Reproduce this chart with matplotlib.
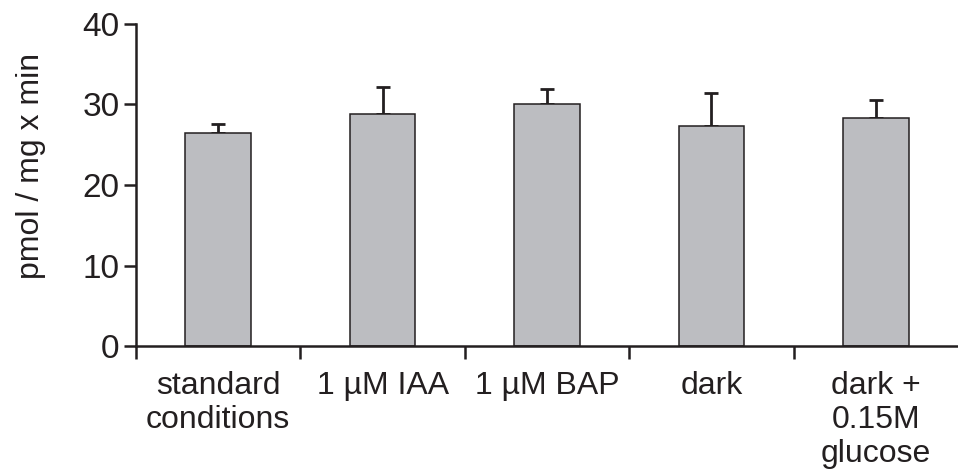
import numpy as np
import matplotlib
matplotlib.use("Agg")
import matplotlib.pyplot as plt

# data
categories = ["standard\nconditions", "1 µM IAA", "1 µM BAP", "dark", "dark +\n0.15M\nglucose"]
means = [26.5, 28.8, 30.0, 27.3, 28.3]
errors = [1.1, 3.4, 1.9, 4.1, 2.3]
yticks = [0, 10, 20, 30, 40]

plt.rcParams['font.family'] = ['Liberation Sans', 'DejaVu Sans']
dark = '#231f20'

fig = plt.figure(figsize=(9.58, 4.71), dpi=100)
ax = fig.add_axes([136/958, 1-346/471, 1-136/958, (346-24)/471])

x = np.arange(len(categories))
ax.bar(x, means, width=0.4, color='#bcbdc1', edgecolor=dark, linewidth=1.1, zorder=2)
ax.errorbar(x, means, yerr=[np.zeros(len(errors)), errors], fmt='none',
            ecolor=dark, elinewidth=2.0, capsize=5, capthick=2.0, zorder=1)

ax.set_xlim(-0.5, 4.5)
ax.set_ylim(0, 40)
ax.set_yticks(yticks)
# major ticks sit between the groups, labels at the bar centres
ax.set_xticks(np.arange(-0.5, 4, 1))
ax.set_xticklabels([])
ax.set_xticks(x, minor=True)
ax.set_xticklabels(categories, minor=True, fontsize=23, linespacing=1.17, color=dark)
ax.tick_params(axis='x', which='minor', length=0, pad=18)
ax.tick_params(axis='x', which='major', direction='out', length=9, width=1.8, color=dark)
ax.tick_params(axis='y', length=9, width=1.8, color=dark, labelsize=24, labelcolor=dark, pad=3)

for s in ['top', 'right']:
    ax.spines[s].set_visible(False)
for s in ['left', 'bottom']:
    ax.spines[s].set_linewidth(1.8)
    ax.spines[s].set_color(dark)

ax.set_ylabel("pmol / mg x min", fontsize=23, color=dark)
ax.yaxis.set_label_coords(-0.11, 0.56)

fig.savefig("out.png", dpi=100)
